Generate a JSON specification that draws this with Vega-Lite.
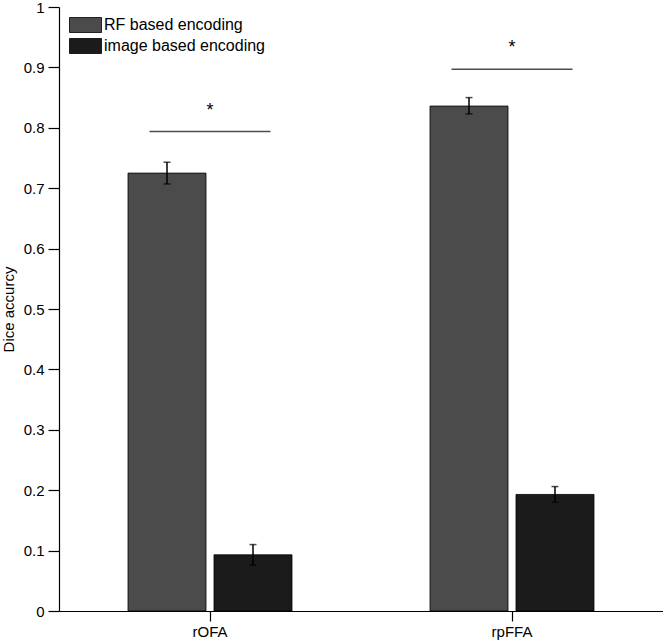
{
  "$schema": "https://vega.github.io/schema/vega-lite/v6.json",
  "width": 604,
  "height": 604,
  "autosize": "none",
  "padding": {"left": 59, "top": 7, "right": 0, "bottom": 33},
  "background": "white",
  "config": {
    "view": {"stroke": null},
    "font": "Liberation Sans",
    "axis": {"domainColor": "black", "tickColor": "black", "labelColor": "black", "titleColor": "black", "grid": false, "labelFont": "Liberation Sans", "titleFont": "Liberation Sans"}
  },
  "datasets": {
    "bars": [
      {"region": "rOFA", "method": "RF based encoding", "accuracy": 0.725, "low": 0.707, "high": 0.743},
      {"region": "rOFA", "method": "image based encoding", "accuracy": 0.093, "low": 0.076, "high": 0.110},
      {"region": "rpFFA", "method": "RF based encoding", "accuracy": 0.836, "low": 0.823, "high": 0.850},
      {"region": "rpFFA", "method": "image based encoding", "accuracy": 0.193, "low": 0.180, "high": 0.206}
    ],
    "sig": [
      {"region": "rOFA", "line": 0.794, "star": 0.828},
      {"region": "rpFFA", "line": 0.897, "star": 0.932}
    ]
  },
  "layer": [
    {
      "data": {"name": "bars"},
      "mark": {"type": "bar", "stroke": "black", "strokeWidth": 0.8},
      "encoding": {
        "x": {
          "field": "region", "type": "nominal", "sort": ["rOFA", "rpFFA"],
          "scale": {"paddingInner": 0.457, "paddingOuter": 0.2285},
          "axis": {"title": null, "labelAngle": 0, "labelFontSize": 15, "tickSize": 10, "labelPadding": 3, "domainWidth": 1.2, "tickWidth": 1.2}
        },
        "xOffset": {
          "field": "method", "type": "nominal", "sort": ["RF based encoding", "image based encoding"],
          "scale": {"paddingInner": 0.093, "paddingOuter": 0}
        },
        "y": {
          "field": "accuracy", "type": "quantitative",
          "scale": {"domain": [0, 1], "nice": false},
          "axis": {
            "title": "Dice accurcy", "titleFontSize": 15, "titleFontWeight": "normal", "titlePadding": 7,
            "values": [0, 0.05, 0.1, 0.15, 0.2, 0.25, 0.3, 0.35, 0.4, 0.45, 0.5, 0.55, 0.6, 0.65, 0.7, 0.75, 0.8, 0.85, 0.9, 0.95, 1],
            "labelExpr": "round(datum.value * 100) % 10 == 0 ? format(datum.value, '~g') : ''",
            "labelFontSize": 15, "labelPadding": 4, "labelFlush": false,
            "tickSize": {"condition": {"test": "round(datum.value * 100) % 10 != 0", "value": 6}, "value": 11},
            "domainWidth": 1.2, "tickWidth": 1.2
          }
        },
        "color": {
          "field": "method", "type": "nominal", "sort": ["RF based encoding", "image based encoding"],
          "scale": {"range": ["#4b4b4b", "#1b1b1b"]},
          "legend": {
            "title": null, "orient": "top-left", "offset": 10,
            "symbolType": "M-1,-1L3.27,-1L3.27,1L-1,1Z", "symbolSize": 225,
            "symbolStrokeColor": "black", "symbolStrokeWidth": 0.8,
            "labelFontSize": 16, "labelOffset": 19, "labelLimit": 300, "rowPadding": 1, "labelColor": "black"
          }
        }
      }
    },
    {
      "data": {"name": "bars"},
      "mark": {"type": "rule", "color": "black", "strokeWidth": 1.5},
      "encoding": {
        "x": {"field": "region", "type": "nominal", "sort": ["rOFA", "rpFFA"]},
        "xOffset": {"field": "method", "type": "nominal", "sort": ["RF based encoding", "image based encoding"]},
        "y": {"field": "low", "type": "quantitative"},
        "y2": {"field": "high"}
      }
    },
    {
      "data": {"name": "bars"},
      "mark": {"type": "tick", "orient": "horizontal", "color": "black", "size": 7, "thickness": 1.5},
      "encoding": {
        "x": {"field": "region", "type": "nominal", "sort": ["rOFA", "rpFFA"]},
        "xOffset": {"field": "method", "type": "nominal", "sort": ["RF based encoding", "image based encoding"]},
        "y": {"field": "low", "type": "quantitative"}
      }
    },
    {
      "data": {"name": "bars"},
      "mark": {"type": "tick", "orient": "horizontal", "color": "black", "size": 7, "thickness": 1.5},
      "encoding": {
        "x": {"field": "region", "type": "nominal", "sort": ["rOFA", "rpFFA"]},
        "xOffset": {"field": "method", "type": "nominal", "sort": ["RF based encoding", "image based encoding"]},
        "y": {"field": "high", "type": "quantitative"}
      }
    },
    {
      "data": {"name": "sig"},
      "mark": {"type": "tick", "orient": "horizontal", "color": "black", "size": 121, "thickness": 1.5},
      "encoding": {
        "x": {"field": "region", "type": "nominal", "sort": ["rOFA", "rpFFA"]},
        "y": {"field": "line", "type": "quantitative"}
      }
    },
    {
      "data": {"name": "sig"},
      "mark": {"type": "text", "text": "*", "fontSize": 18, "color": "black", "baseline": "middle"},
      "encoding": {
        "x": {"field": "region", "type": "nominal", "sort": ["rOFA", "rpFFA"]},
        "y": {"field": "star", "type": "quantitative"}
      }
    }
  ]
}
